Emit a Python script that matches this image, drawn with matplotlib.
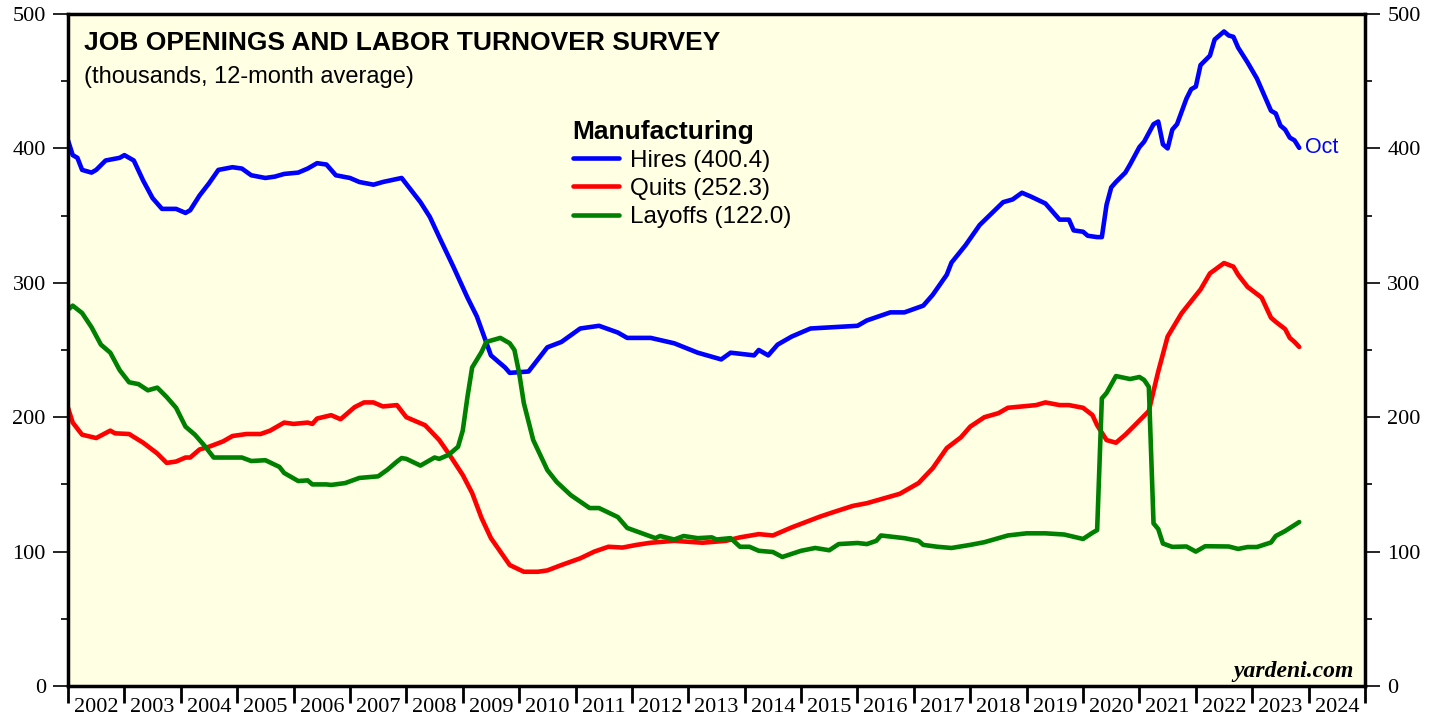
import numpy as np
import matplotlib
matplotlib.use("Agg")
import matplotlib.pyplot as plt
from matplotlib.ticker import FixedLocator, NullFormatter

# months since Jan 2002 and 12-month average values (thousands)
hires_m = [0, 1, 2, 3, 5, 6, 8, 11, 12, 14, 16, 18, 20, 23, 25, 26, 28, 30, 32, 35,
           37, 39, 42, 44, 46, 49, 51, 53, 55, 57, 60, 62, 65, 67, 71, 75, 77, 79, 82, 85,
           87, 90, 93, 94, 98, 102, 105, 109, 113, 117, 119, 124, 129, 134, 139, 141, 146, 147, 149, 151,
           154, 158, 163, 168, 170, 175, 178, 182, 184, 187, 188, 191, 194, 199, 201, 203, 205, 208, 211, 213,
           214, 216, 217, 219, 220, 221, 222, 223, 225, 226, 228, 229, 231, 232, 233, 234, 235, 236, 238, 239,
           240, 241, 243, 244, 246, 247, 248, 249, 251, 253, 254, 256, 257, 258, 259, 260, 261, 262]
hires_v = [406, 395, 393, 384, 382, 384, 391, 393, 395, 391, 376, 363, 355, 355, 352, 354, 365, 374, 384, 386,
           385, 380, 378, 379, 381, 382, 385, 389, 388, 380, 378, 375, 373, 375, 378, 360, 349, 334, 312, 289,
           275, 246, 237, 233, 234, 252, 256, 266, 268, 263, 259, 259, 255, 248, 243, 248, 246, 250, 246, 254,
           260, 266, 267, 268, 272, 278, 278, 283, 291, 306, 315, 328, 343, 360, 362, 367, 364, 359, 347, 347,
           339, 338, 335, 334, 334, 358, 371, 375, 382, 388, 401, 405, 418, 420, 403, 400, 414, 418, 437, 444,
           446, 462, 469, 481, 487, 484, 483, 475, 464, 452, 444, 428, 426, 417, 414, 408, 406, 400.4]

quits_m = [0, 1, 3, 6, 9, 10, 13, 16, 19, 21, 23, 25, 26, 28, 30, 33, 35, 38, 41, 43,
           46, 48, 51, 52, 53, 56, 58, 61, 63, 65, 67, 70, 72, 76, 79, 81, 84, 86, 88, 90,
           92, 94, 97, 100, 102, 105, 109, 112, 115, 118, 121, 124, 129, 135, 140, 143, 147, 150, 154, 157,
           160, 163, 167, 170, 173, 177, 181, 184, 187, 190, 192, 195, 198, 200, 203, 206, 208, 211, 213, 216,
           218, 219, 221, 223, 225, 227, 230, 231, 232, 234, 237, 241, 243, 246, 248, 249, 251, 254, 256, 257,
           259, 260, 261, 262]
quits_v = [207, 196, 187, 184.5, 190, 188, 187.5, 181, 173, 166, 167, 170, 170, 176, 178, 182, 186, 187.5, 187.5, 190,
           196, 195, 196, 195, 199, 201.5, 198.5, 207.5, 211, 211, 208, 209, 200, 194, 183, 173, 157, 143.6, 125, 110,
           100, 90, 85, 85, 86, 90, 95, 100, 103.6, 103, 105, 106.6, 108, 106.6, 108, 110.6, 113, 112, 118, 122,
           126, 129.5, 134, 136, 139, 143, 151, 162, 177, 185, 193, 200, 203, 207, 208, 209, 211, 209, 209, 207,
           201.6, 194, 183, 181, 187, 194, 204.6, 219.5, 234, 260, 277.5, 295, 307, 314.7, 312, 306, 297, 289, 274, 271,
           265.6, 259, 256, 252.3]

layoffs_m = [0, 1, 3, 5, 7, 9, 11, 13, 15, 17, 19, 21, 23, 25, 27, 29, 31, 33, 37, 39,
             42, 45, 46, 49, 51, 52, 55, 56, 59, 62, 66, 68, 70, 71, 72, 75, 78, 79, 81, 83,
             84, 85, 86, 88, 89, 92, 94, 95, 96, 97, 99, 102, 104, 107, 111, 113, 117, 119, 125, 126,
             129, 131, 134, 137, 138, 141, 143, 145, 147, 150, 152, 156, 159, 162, 164, 168, 170, 172, 173, 178,
             181, 182, 185, 188, 192, 195, 200, 204, 208, 212, 216, 218, 219, 220, 221, 223, 226, 228, 229, 230,
             231, 232, 233, 235, 238, 240, 242, 247, 249, 251, 253, 256, 257, 259, 262]
layoffs_v = [280, 283, 277.5, 267, 254, 248, 235, 226, 224.6, 220, 222, 215, 207, 193, 187, 179, 170, 170, 170, 167.4,
             168, 163, 158.5, 152.5, 153, 150, 150, 149.6, 151, 154.8, 156, 161, 167, 169.6, 169, 164, 170, 169, 172, 178,
             190, 215, 237, 248.5, 256, 259, 255, 250, 233, 210.5, 183, 160.7, 151.8, 142, 132.4, 132.4, 125.7, 117.6, 110, 111.6,
             109, 111.6, 110, 110.6, 109, 110, 103.6, 103.6, 100.6, 99.7, 96, 100.6, 102.7, 101, 105.6, 106.4, 105.6, 108, 112, 110,
             108, 105, 103.6, 102.7, 105, 107, 112, 113.6, 113.6, 112.7, 109.4, 114, 116, 214, 218, 230.6, 228.4, 229.9, 227.7, 222.5,
             121, 116.8, 106, 103.5, 103.8, 100, 104, 103.8, 102, 103.4, 103.4, 106.8, 111.6, 115.3, 122.0]

years = list(range(2002, 2025))
yticks = [0, 100, 200, 300, 400, 500]

BG = "#ffffe3"


def to_year(months):
    return 2002 + np.asarray(months) / 12.0


def main():
    plt.rcParams["font.family"] = ["Liberation Serif", "DejaVu Serif"]
    fig = plt.figure(figsize=(14.35, 7.17), dpi=100)
    ax = fig.add_axes([68 / 1435, 31 / 717, (1365 - 68) / 1435, (686 - 14) / 717])
    ax.set_facecolor(BG)

    ax.plot(to_year(hires_m), hires_v, color="#0000ff", lw=3.3, label="Hires (400.4)",
            solid_joinstyle="round", solid_capstyle="round")
    ax.plot(to_year(quits_m), quits_v, color="#ff0000", lw=3.3, label="Quits (252.3)",
            solid_joinstyle="round", solid_capstyle="round")
    ax.plot(to_year(layoffs_m), layoffs_v, color="#008000", lw=3.3, label="Layoffs (122.0)",
            solid_joinstyle="round", solid_capstyle="round")

    ax.set_xlim(2002, 2025)
    ax.set_ylim(0, 500)

    # y axis, mirrored on the right
    ax.set_yticks(yticks)
    ax.yaxis.set_minor_locator(FixedLocator([50, 150, 250, 350, 450]))
    ax.tick_params(axis="y", which="major", direction="out", length=11, width=1.2,
                   labelsize=16, left=True, right=True, labelleft=True, labelright=True, pad=5)
    ax.tick_params(axis="y", which="minor", direction="out", length=5, width=1.2,
                   left=True, right=True)

    # x axis: ticks at year boundaries, labels centred on the year
    ax.xaxis.set_major_locator(FixedLocator(years + [2025]))
    ax.xaxis.set_major_formatter(NullFormatter())
    ax.xaxis.set_minor_locator(FixedLocator([y + 0.5 for y in years]))
    ax.set_xticklabels([str(y) for y in years], minor=True)
    ax.tick_params(axis="x", which="major", direction="out", length=12, width=2)
    ax.tick_params(axis="x", which="minor", length=0, labelsize=16, pad=9)

    for s in ax.spines.values():
        s.set_linewidth(2.5)

    ax.text(0.012, 0.975, "JOB OPENINGS AND LABOR TURNOVER SURVEY", transform=ax.transAxes,
            fontsize=19, fontweight="bold", family="Liberation Sans", va="top")
    ax.text(0.012, 0.923, "(thousands, 12-month average)", transform=ax.transAxes,
            fontsize=17, family="Liberation Sans", va="top")

    leg = ax.legend(loc="upper left", bbox_to_anchor=(0.3815, 0.857), frameon=False,
                    title="Manufacturing", handlelength=1.9, handletextpad=0.45,
                    labelspacing=0.25, borderaxespad=0,
                    prop={"family": "Liberation Sans", "size": 17.5})
    leg.get_title().set_fontfamily("Liberation Sans")
    leg.get_title().set_fontweight("bold")
    leg.get_title().set_fontsize(19)
    leg._legend_box.align = "left"

    ax.annotate("Oct", xy=(to_year(hires_m[-1:])[0], hires_v[-1]), xytext=(4, 0),
                textcoords="offset points", color="#0000ff", fontsize=15.5,
                family="Liberation Sans", va="center")

    ax.text(0.991, 0.006, "yardeni.com", transform=ax.transAxes, fontsize=17,
            fontweight="bold", style="italic", ha="right", va="bottom")

    fig.savefig("out.png", dpi=100)


if __name__ == "__main__":
    main()
